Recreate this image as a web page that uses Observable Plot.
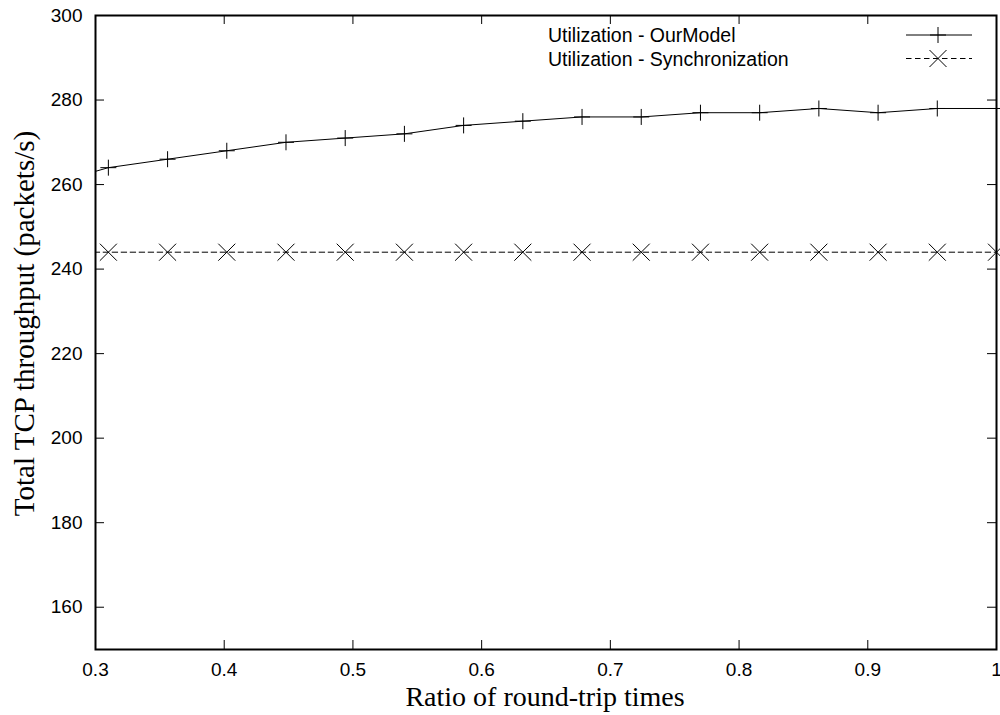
<!DOCTYPE html>
<html><head><meta charset="utf-8">
<script src="https://cdn.jsdelivr.net/npm/d3@7"></script>
<script src="https://cdn.jsdelivr.net/npm/@observablehq/plot@0.6"></script>
<style>
html,body{margin:0;padding:0;background:#fff;}
#wrap{position:relative;width:1000px;height:715px;}
#legend{position:absolute;left:0;top:0;pointer-events:none;}
</style></head><body><div id="wrap"></div>
<script>
// Data (first point lies just left of the visible x-range; the line enters from the left edge)
const ratios = [0.264, 0.31, 0.356, 0.402, 0.448, 0.494, 0.54, 0.586, 0.632, 0.678, 0.724, 0.77, 0.816, 0.862, 0.908, 0.954, 1.0];
const ourModel = [260, 264, 266, 268, 270, 271, 272, 274, 275, 276, 276, 277, 277, 278, 277, 278, 278];
const synchronization = [244, 244, 244, 244, 244, 244, 244, 244, 244, 244, 244, 244, 244, 244, 244, 244, 244];
const seriesNames = ["Utilization - OurModel", "Utilization - Synchronization"];
const xTicks = [0.3, 0.4, 0.5, 0.6, 0.7, 0.8, 0.9, 1];
const xTickLabels = ["0.3", "0.4", "0.5", "0.6", "0.7", "0.8", "0.9", "1"];
const yTicks = [160, 180, 200, 220, 240, 260, 280, 300];
const yTickLabels = ["160", "180", "200", "220", "240", "260", "280", "300"];
const xDomain = [0.3, 1];
const yDomain = [150, 300];
const xTitle = "Ratio of round-trip times";
const yTitle = "Total TCP throughput (packets/s)";

const W = 1000, H = 715;
const mL = 95, mR = 4, mT = 15, mB = 66;
const frameW = W - mL - mR, frameH = H - mT - mB;
const tickLen = 9;
const sans = "'Liberation Sans', Arial, Helvetica, sans-serif";
const serif = "'Liberation Serif', 'Times New Roman', serif";

const rows = ratios.map((x, i) => ({x, ourModel: ourModel[i], sync: synchronization[i]}));

function lineSymbol(kind) {
  return {
    draw(ctx, size) {
      const r = Math.sqrt(size / Math.PI);
      if (kind === "plus") {
        ctx.moveTo(-r, 0); ctx.lineTo(r, 0);
        ctx.moveTo(0, -r); ctx.lineTo(0, r);
      } else {
        ctx.moveTo(-r, -r); ctx.lineTo(r, r);
        ctx.moveTo(-r, r); ctx.lineTo(r, -r);
      }
    }
  };
}
const plusSym = lineSymbol("plus");
const timesSym = lineSymbol("times");
const visible = d => d.x >= xDomain[0] && d.x <= xDomain[1];

const chart = Plot.plot({
  width: W, height: H,
  marginLeft: mL, marginRight: mR, marginTop: mT, marginBottom: mB,
  style: {fontFamily: sans, fontSize: "19px", color: "black", background: "white"},
  x: {domain: xDomain, axis: null},
  y: {domain: yDomain, axis: null},
  marks: [
    // inward ticks on all four sides
    Plot.tickX(xTicks, {x: d => d, insetTop: frameH - tickLen, stroke: "black", strokeWidth: 1}),
    Plot.tickX(xTicks, {x: d => d, insetBottom: frameH - tickLen, stroke: "black", strokeWidth: 1}),
    Plot.tickY(yTicks, {y: d => d, insetRight: frameW - tickLen, stroke: "black", strokeWidth: 1}),
    Plot.tickY(yTicks, {y: d => d, insetLeft: frameW - tickLen, stroke: "black", strokeWidth: 1}),
    Plot.axisX(xTicks, {tickSize: 0, tickPadding: 13, tickFormat: d => xTickLabels[xTicks.indexOf(d)], fontSize: 19, label: null}),
    Plot.axisY(yTicks, {tickSize: 0, tickPadding: 13, tickFormat: d => yTickLabels[yTicks.indexOf(d)], fontSize: 19, label: null}),
    Plot.line(rows, {x: "x", y: "sync", stroke: "black", strokeWidth: 1, strokeDasharray: "5.5,3.5", clip: true}),
    Plot.line(rows, {x: "x", y: "ourModel", stroke: "black", strokeWidth: 1, clip: true}),
    Plot.dot(rows, {filter: visible, x: "x", y: "sync", symbol: timesSym, r: 8.5, fill: "none", stroke: "black", strokeWidth: 1}),
    Plot.dot(rows, {filter: visible, x: "x", y: "ourModel", symbol: plusSym, r: 8, fill: "none", stroke: "black", strokeWidth: 1}),
    Plot.frame({stroke: "black", strokeWidth: 2}),
    Plot.text([xTitle], {frameAnchor: "bottom", dy: 56, dx: -1, lineAnchor: "bottom", textAnchor: "middle", fontFamily: serif, fontSize: 28, fill: "black"}),
    Plot.text([yTitle], {frameAnchor: "left", dx: -62, dy: -9, rotate: -90, lineAnchor: "bottom", textAnchor: "middle", fontFamily: serif, fontSize: 29, fill: "black"})
  ]
});
document.getElementById("wrap").appendChild(chart);

// Legend (inside plot, top-right), gnuplot style
const lg = d3.select("#wrap").append("svg").attr("id", "legend").attr("width", W).attr("height", H);
const legendItems = [
  {name: seriesNames[0], dash: null, sym: "plus", y: 35},
  {name: seriesNames[1], dash: "5.5,3.5", sym: "times", y: 58.5}
];
legendItems.forEach(it => {
  lg.append("text").attr("x", 548).attr("y", it.y + 7).attr("font-family", sans).attr("font-size", 19.5).attr("fill", "black").text(it.name);
  lg.append("line").attr("x1", 906).attr("x2", 972).attr("y1", it.y).attr("y2", it.y)
    .attr("stroke", "black").attr("stroke-width", 1).attr("stroke-dasharray", it.dash);
  const p = d3.path();
  const cx = 938, r = it.sym === "plus" ? 8 : 8.5;
  if (it.sym === "plus") { p.moveTo(cx - r, it.y); p.lineTo(cx + r, it.y); p.moveTo(cx, it.y - r); p.lineTo(cx, it.y + r); }
  else { p.moveTo(cx - r, it.y - r); p.lineTo(cx + r, it.y + r); p.moveTo(cx - r, it.y + r); p.lineTo(cx + r, it.y - r); }
  lg.append("path").attr("d", p.toString()).attr("fill", "none").attr("stroke", "black").attr("stroke-width", 1);
});
</script>
</body></html>
